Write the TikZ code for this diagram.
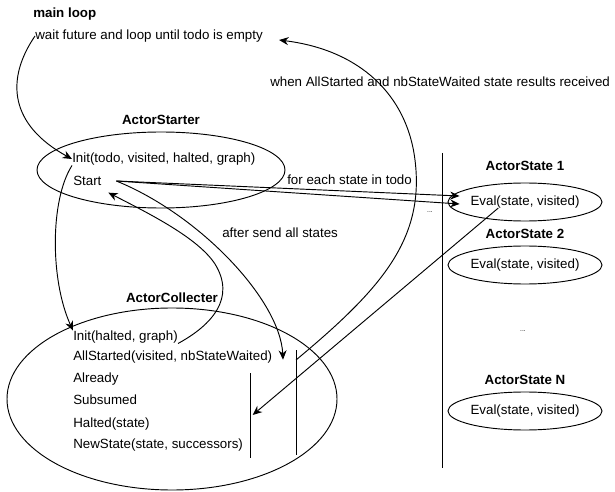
\documentclass[tikz,border=0pt]{standalone}
\usepackage{fontspec}
\setmainfont{Liberation Sans}
\usetikzlibrary{shapes.geometric, arrows.meta, positioning}
\tikzstyle{txtNode} = [inner sep=0pt, anchor=west]
\tikzstyle{titleNode} = [inner sep=0pt, font=\bfseries]
\tikzstyle{actorNode} = [ellipse, draw=black, line width=0.7pt]
\tikzstyle{evalNode} = [actorNode, minimum width=115.5pt, minimum height=28.5pt, inner sep=0pt]
\tikzstyle{arrow} = [line width=0.7pt, -{Stealth[length=7pt,width=6pt]}, draw=black]
\tikzstyle{bar} = [line width=0.7pt, draw=black]

\begin{document}
\begin{tikzpicture}[x=0.75pt, y=-0.75pt, font=\fontsize{10}{12}\selectfont]
    \useasboundingbox (0,0) rectangle (615,492);

    % main loop
    \node (mainTitle) [titleNode, anchor=west] at (33,14) {main loop};
    \node (waitText) [txtNode] at (35,36) {wait future and loop until todo is empty};

    % starter
    \node (starter) [actorNode, minimum width=186pt, minimum height=57pt] at (161,170) {};
    \node (starterTitle) [titleNode, above=5pt of starter] {ActorStarter};
    \node (sInit) [txtNode] at (72,159) {Init(todo, visited, halted, graph)};
    \node (sStart) [txtNode] at (73,181) {Start};
    \coordinate (startOut) at ([xshift=11pt]sStart.east);

    % collecter
    \node (coll) [actorNode, minimum width=247.5pt, minimum height=136.5pt] at (172,399) {};
    \node (collTitle) [titleNode, above=3.5pt of coll] {ActorCollecter};
    \node (cInit) [txtNode] at (73,337) {Init(halted, graph)};
    \node (cAll) [txtNode] at (73,357) {AllStarted(visited, nbStateWaited)};
    \node (cAlready) [txtNode] at (73,379) {Already};
    \node (cSub) [txtNode] at (73,400) {Subsumed};
    \node (cHalt) [txtNode] at (73,424) {Halted(state)};
    \node (cNew) [txtNode] at (73,445) {NewState(state, successors)};
    \coordinate (haltTop) at (250,373);
    \coordinate (haltBot) at (250,458);
    \coordinate (allTop) at (296,350);
    \coordinate (allBot) at (296,455);
    \draw [bar] (haltTop) -- (haltBot);
    \draw [bar] (allTop) -- (allBot);

    % states
    \coordinate (sepTop) at (442,153);
    \coordinate (sepBot) at (442,468);
    \draw [bar] (sepTop) -- (sepBot);
    \node (eval1) [evalNode] at (525,202) {Eval(state, visited)};
    \node (eval2) [evalNode] at (525,265) {Eval(state, visited)};
    \node (evalN) [evalNode] at (525,411) {Eval(state, visited)};
    \node (state1) [titleNode, above=8.5pt of eval1] {ActorState 1};
    \node (state2) [titleNode, above=5pt of eval2] {ActorState 2};
    \node (stateN) [titleNode, above=5pt of evalN] {ActorState N};
    \node (dots1) [font=\tiny, inner sep=0pt] at (430,212) {...};
    \node (dots2) [font=\tiny, inner sep=0pt] at (523,331) {...};

    % labels
    \node (lblEach) [txtNode] at (287,180) {for each state in todo};
    \node (lblSend) [txtNode] at (222,233) {after send all states};
    \node (lblWhen) [txtNode] at (270,82) {when AllStarted and nbStateWaited state results received};

    % messages
    \draw [arrow] (waitText.west) .. controls (5,80) and (10,125) .. (sInit.west);
    \draw [arrow] (sInit.south west) .. controls (50,200) and (50,280) .. (cInit.north west);
    \draw [arrow] (cInit.south east) .. controls (212,325) and (236,298) .. (215,264) .. controls (198,238) and (150,214) .. ([shift={(5pt,-5pt)}]sStart.south east);
    \draw [arrow] (startOut) -- ([shift={(9pt,4.5pt)}]eval1.west);
    \draw [arrow] (startOut) -- ([shift={(9pt,-1.5pt)}]eval1.west);
    \draw [arrow] (startOut) .. controls (200,215) and (280,300) .. ([shift={(8pt,-2pt)}]cAll.east);
    \draw [arrow] ([yshift=-7.5pt]allTop) .. controls (380,290) and (425,240) .. (415,160) .. controls (407,95) and (360,50) .. ([shift={(12pt,-3pt)}]waitText.east);
    \draw [arrow] ([shift={(-20pt,-4.5pt)}]eval1.center) -- ([shift={(2pt,-31.5pt)}]haltTop);

\end{tikzpicture}
\end{document}
